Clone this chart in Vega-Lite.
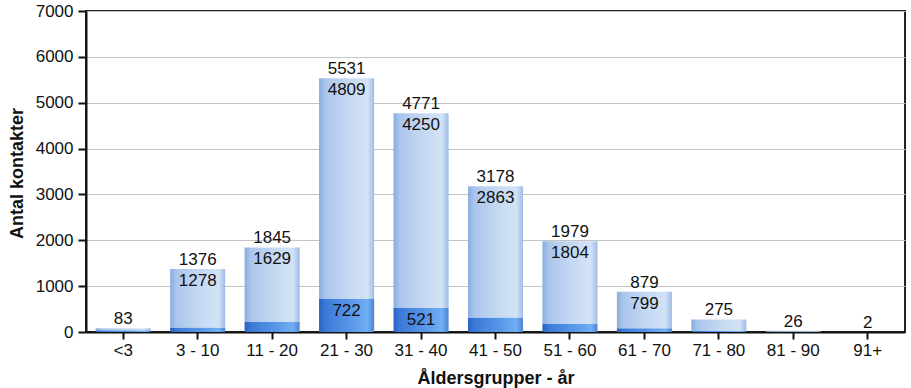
{
  "$schema": "https://vega.github.io/schema/vega-lite/v6.json",
  "width": 819,
  "height": 321,
  "autosize": {"type": "none"},
  "padding": {"left": 86, "top": 11, "right": 6, "bottom": 56},
  "background": "#ffffff",
  "config": {
    "view": {"stroke": "#222222", "strokeWidth": 2},
    "font": "Liberation Sans"
  },
  "data": {
    "values": [
      {"group": "<3", "solid": 40, "striped": 43, "total": 83},
      {"group": "3 - 10", "solid": 98, "striped": 1278, "total": 1376},
      {"group": "11 - 20", "solid": 216, "striped": 1629, "total": 1845},
      {"group": "21 - 30", "solid": 722, "striped": 4809, "total": 5531},
      {"group": "31 - 40", "solid": 521, "striped": 4250, "total": 4771},
      {"group": "41 - 50", "solid": 315, "striped": 2863, "total": 3178},
      {"group": "51 - 60", "solid": 175, "striped": 1804, "total": 1979},
      {"group": "61 - 70", "solid": 80, "striped": 799, "total": 879},
      {"group": "71 - 80", "solid": 20, "striped": 255, "total": 275},
      {"group": "81 - 90", "solid": 5, "striped": 21, "total": 26},
      {"group": "91+", "solid": 0, "striped": 2, "total": 2}
    ]
  },
  "encoding": {
    "x": {
      "field": "group",
      "type": "nominal",
      "sort": null,
      "scale": {"paddingInner": 0.26, "paddingOuter": 0.13},
      "axis": {
        "title": "Åldersgrupper - år",
        "titleFont": "Liberation Sans",
        "titleFontSize": 18,
        "titleFontWeight": "bold",
        "titleColor": "#111111",
        "titleX": 409.5,
        "titleY": 51,
        "titleBaseline": "alphabetic",
        "titleAlign": "center",
        "labelAngle": 0,
        "labelFont": "Liberation Sans",
        "labelFontSize": 17,
        "labelColor": "#111111",
        "labelPadding": 3,
        "tickSize": 7,
        "tickColor": "#111111",
        "tickWidth": 2,
        "bandPosition": 0.5,
        "domainColor": "#111111",
        "domainWidth": 2,
        "grid": false
      }
    }
  },
  "layer": [
    {
      "mark": {
        "type": "bar",
        "fill": {
          "gradient": "linear",
          "x1": 0, "x2": 1, "y1": 0, "y2": 0,
          "stops": [
            {"offset": 0, "color": "#2a63c2"},
            {"offset": 0.12, "color": "#3b7bd8"},
            {"offset": 0.55, "color": "#5795e8"},
            {"offset": 0.88, "color": "#72aef2"},
            {"offset": 1, "color": "#4a84d6"}
          ]
        }
      },
      "encoding": {
        "y": {
          "field": "solid",
          "type": "quantitative",
          "scale": {"domain": [0, 7000], "nice": false},
          "axis": {
            "title": "Antal kontakter",
            "titleFont": "Liberation Sans",
            "titleFontSize": 18,
            "titleFontWeight": "bold",
            "titleColor": "#111111",
            "titleAngle": 270,
            "titleX": -69,
            "titleY": 162,
            "titleAlign": "center",
            "titleBaseline": "middle",
            "values": [0, 1000, 2000, 3000, 4000, 5000, 6000, 7000],
            "format": "d",
            "labelFont": "Liberation Sans",
            "labelFontSize": 17,
            "labelColor": "#111111",
            "labelPadding": 5,
            "tickSize": 8,
            "tickColor": "#111111",
            "tickWidth": 2,
            "domainColor": "#111111",
            "domainWidth": 2,
            "gridColor": "#c4c4c4",
            "gridWidth": 1
          }
        }
      }
    },
    {
      "mark": {
        "type": "bar",
        "fill": {
          "gradient": "linear",
          "x1": 0, "x2": 1, "y1": 0, "y2": 0,
          "stops": [
            {"offset": 0, "color": "#8aaee0"},
            {"offset": 0.12, "color": "#abc6ec"},
            {"offset": 0.55, "color": "#c6d9f3"},
            {"offset": 0.88, "color": "#d3e2f6"},
            {"offset": 1, "color": "#9dbce6"}
          ]
        }
      },
      "encoding": {
        "y": {"field": "solid", "type": "quantitative"},
        "y2": {"field": "total"}
      }
    },
    {
      "mark": {"type": "text", "baseline": "alphabetic", "dy": -4, "fontSize": 17, "color": "#111111", "font": "Liberation Sans"},
      "encoding": {
        "y": {"field": "total", "type": "quantitative"},
        "text": {"field": "total", "type": "quantitative"}
      }
    },
    {
      "transform": [{"filter": "datum.striped > 500"}],
      "mark": {"type": "text", "baseline": "alphabetic", "dy": 17, "fontSize": 17, "color": "#111111", "font": "Liberation Sans"},
      "encoding": {
        "y": {"field": "total", "type": "quantitative"},
        "text": {"field": "striped", "type": "quantitative"}
      }
    },
    {
      "transform": [{"filter": "datum.solid > 400"}],
      "mark": {"type": "text", "baseline": "alphabetic", "dy": 17, "fontSize": 17, "color": "#111111", "font": "Liberation Sans"},
      "encoding": {
        "y": {"field": "solid", "type": "quantitative"},
        "text": {"field": "solid", "type": "quantitative"}
      }
    }
  ]
}
